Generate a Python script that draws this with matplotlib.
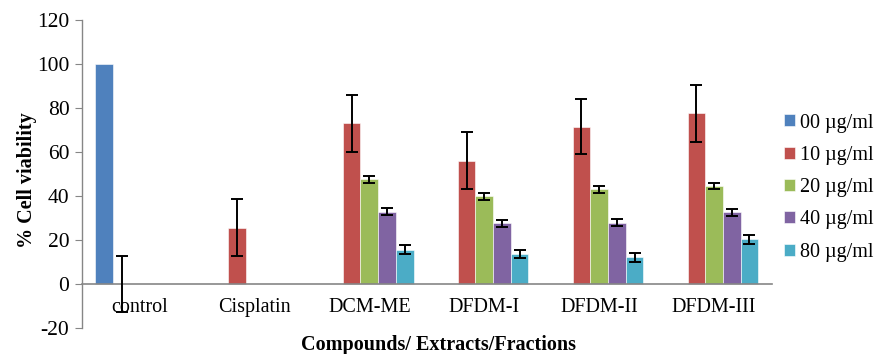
import matplotlib
matplotlib.use("Agg")
import matplotlib.pyplot as plt
import numpy as np

plt.rcParams["font.family"] = ["Liberation Serif", "DejaVu Serif"]
plt.rcParams["axes.unicode_minus"] = False

categories = ["control", "Cisplatin", "DCM-ME", "DFDM-I", "DFDM-II", "DFDM-III"]
series = ["00 \u00b5g/ml", "10 \u00b5g/ml", "20 \u00b5g/ml", "40 \u00b5g/ml", "80 \u00b5g/ml"]
colors = ["#4F81BD", "#C0504D", "#9BBB59", "#8064A2", "#4BACC6"]

nan = np.nan
# values per series (rows) across categories (columns)
values = [
    [100, nan, nan, nan, nan, nan],
    [0, 25.6, 73.0, 56.1, 71.5, 77.6],
    [nan, nan, 47.6, 39.9, 43.0, 44.5],
    [nan, nan, 32.9, 27.6, 27.9, 32.6],
    [nan, nan, 15.6, 13.5, 12.1, 20.3],
]
errors = [
    [nan, nan, nan, nan, nan, nan],
    [12.7, 12.9, 12.8, 12.9, 12.6, 12.9],
    [nan, nan, 1.5, 1.6, 1.5, 1.5],
    [nan, nan, 1.6, 1.5, 1.6, 1.6],
    [nan, nan, 2.0, 1.8, 2.0, 2.0],
]

fig = plt.figure(figsize=(8.74, 3.54), dpi=100)
ax = fig.add_axes([0.0938, 0.0734, 0.789, 0.870])

n = len(series)
w = 1 / 6.5
x = np.arange(len(categories))
for i in range(n):
    pos = x - 2 * w + i * w
    vals = np.array(values[i], dtype=float)
    errs = np.array(errors[i], dtype=float)
    ax.bar(pos, np.nan_to_num(vals), w, color=colors[i], edgecolor="white",
           linewidth=0.4, label=series[i])
    m = ~np.isnan(errs)
    ax.errorbar(pos[m], vals[m], yerr=errs[m], fmt="none", ecolor="black",
                elinewidth=1.4, capsize=4, capthick=1.4, zorder=3)

for s in ["top", "right"]:
    ax.spines[s].set_visible(False)
ax.spines["bottom"].set_position(("data", 0))
ax.spines["bottom"].set_color("#868686")
ax.spines["bottom"].set_linewidth(1.2)
ax.spines["left"].set_color("#868686")
ax.spines["left"].set_linewidth(1.0)

ax.set_xlim(-0.5, len(categories) - 0.5)
ax.set_ylim(-20, 120)
ax.set_yticks(range(-20, 121, 20))
ax.tick_params(axis="y", labelsize=15.5, length=5, color="#868686", direction="out", pad=4)
ax.set_xticks(x)
ax.set_xticklabels(categories, fontsize=14.5)
ax.tick_params(axis="x", length=0, pad=10, labelsize=14.5)

ax.set_ylabel("% Cell viability", fontsize=14.5, fontweight="bold")
ax.yaxis.set_label_coords(-0.065, 0.48)
fig.text(0.502, 0.011, "Compounds/ Extracts/Fractions", fontsize=14.5,
         fontweight="bold", ha="center", va="baseline")

ax.legend(loc="center left", bbox_to_anchor=(784 / 874, 0.47),
          bbox_transform=fig.transFigure, frameon=False,
          fontsize=14.5, handlelength=0.55, handleheight=0.55, handletextpad=0.25,
          labelspacing=0.66, borderaxespad=0, borderpad=0)

fig.savefig("out.png", dpi=100)
